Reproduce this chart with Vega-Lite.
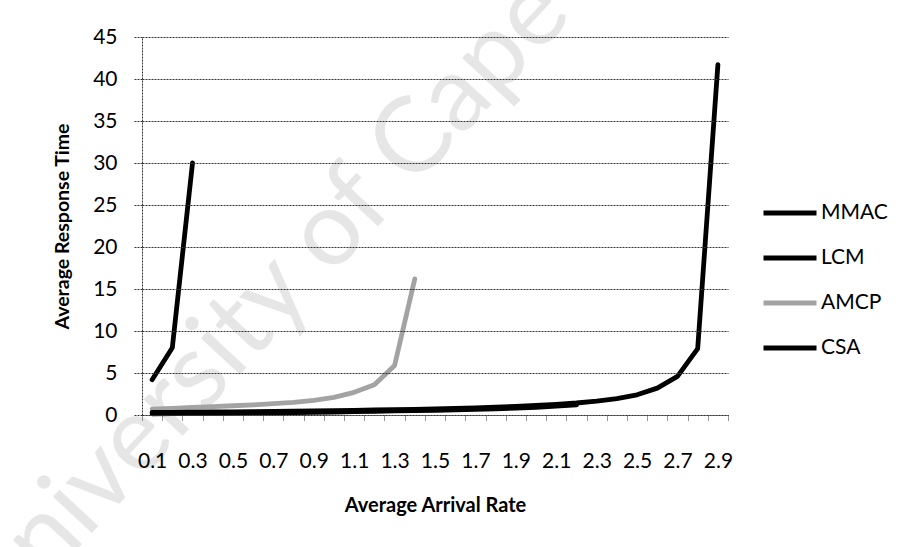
{
  "$schema": "https://vega.github.io/schema/vega-lite/v6.json",
  "width": 586,
  "height": 378,
  "autosize": "none",
  "padding": {"left": 142, "top": 37, "right": 180, "bottom": 132},
  "background": "white",
  "config": {"font": "Lato", "view": {"stroke": null}},
  "datasets": {
    "wm": [{"x": "1.1", "y": 25, "t": "University of Cape Town"}],
    "main": [
      {"x": "0.1", "s": "MMAC", "y": 4.2},
      {"x": "0.2", "s": "MMAC", "y": 8.0},
      {"x": "0.3", "s": "MMAC", "y": 30.0},
      {"x": "0.1", "s": "LCM", "y": 0.15},
      {"x": "0.2", "s": "LCM", "y": 0.17},
      {"x": "0.3", "s": "LCM", "y": 0.19},
      {"x": "0.4", "s": "LCM", "y": 0.21},
      {"x": "0.5", "s": "LCM", "y": 0.23},
      {"x": "0.6", "s": "LCM", "y": 0.25},
      {"x": "0.7", "s": "LCM", "y": 0.27},
      {"x": "0.8", "s": "LCM", "y": 0.3},
      {"x": "0.9", "s": "LCM", "y": 0.33},
      {"x": "1.0", "s": "LCM", "y": 0.36},
      {"x": "1.1", "s": "LCM", "y": 0.4},
      {"x": "1.2", "s": "LCM", "y": 0.44},
      {"x": "1.3", "s": "LCM", "y": 0.48},
      {"x": "1.4", "s": "LCM", "y": 0.52},
      {"x": "1.5", "s": "LCM", "y": 0.56},
      {"x": "1.6", "s": "LCM", "y": 0.61},
      {"x": "1.7", "s": "LCM", "y": 0.67},
      {"x": "1.8", "s": "LCM", "y": 0.74},
      {"x": "1.9", "s": "LCM", "y": 0.82},
      {"x": "2.0", "s": "LCM", "y": 0.92},
      {"x": "2.1", "s": "LCM", "y": 1.05},
      {"x": "2.2", "s": "LCM", "y": 1.2},
      {"x": "0.1", "s": "AMCP", "y": 0.7},
      {"x": "0.2", "s": "AMCP", "y": 0.8},
      {"x": "0.3", "s": "AMCP", "y": 0.9},
      {"x": "0.4", "s": "AMCP", "y": 1.0},
      {"x": "0.5", "s": "AMCP", "y": 1.1},
      {"x": "0.6", "s": "AMCP", "y": 1.2},
      {"x": "0.7", "s": "AMCP", "y": 1.35},
      {"x": "0.8", "s": "AMCP", "y": 1.5},
      {"x": "0.9", "s": "AMCP", "y": 1.75},
      {"x": "1.0", "s": "AMCP", "y": 2.1},
      {"x": "1.1", "s": "AMCP", "y": 2.7},
      {"x": "1.2", "s": "AMCP", "y": 3.6},
      {"x": "1.3", "s": "AMCP", "y": 5.9},
      {"x": "1.4", "s": "AMCP", "y": 16.2},
      {"x": "0.1", "s": "CSA", "y": 0.3},
      {"x": "0.2", "s": "CSA", "y": 0.32},
      {"x": "0.3", "s": "CSA", "y": 0.34},
      {"x": "0.4", "s": "CSA", "y": 0.36},
      {"x": "0.5", "s": "CSA", "y": 0.38},
      {"x": "0.6", "s": "CSA", "y": 0.4},
      {"x": "0.7", "s": "CSA", "y": 0.42},
      {"x": "0.8", "s": "CSA", "y": 0.45},
      {"x": "0.9", "s": "CSA", "y": 0.48},
      {"x": "1.0", "s": "CSA", "y": 0.52},
      {"x": "1.1", "s": "CSA", "y": 0.55},
      {"x": "1.2", "s": "CSA", "y": 0.6},
      {"x": "1.3", "s": "CSA", "y": 0.64},
      {"x": "1.4", "s": "CSA", "y": 0.68},
      {"x": "1.5", "s": "CSA", "y": 0.73},
      {"x": "1.6", "s": "CSA", "y": 0.79},
      {"x": "1.7", "s": "CSA", "y": 0.86},
      {"x": "1.8", "s": "CSA", "y": 0.94},
      {"x": "1.9", "s": "CSA", "y": 1.03},
      {"x": "2.0", "s": "CSA", "y": 1.14},
      {"x": "2.1", "s": "CSA", "y": 1.27},
      {"x": "2.2", "s": "CSA", "y": 1.43},
      {"x": "2.3", "s": "CSA", "y": 1.65},
      {"x": "2.4", "s": "CSA", "y": 1.95},
      {"x": "2.5", "s": "CSA", "y": 2.4},
      {"x": "2.6", "s": "CSA", "y": 3.2},
      {"x": "2.7", "s": "CSA", "y": 4.6},
      {"x": "2.8", "s": "CSA", "y": 7.9},
      {"x": "2.9", "s": "CSA", "y": 41.7}
    ]
  },
  "layer": [
    {
      "data": {"name": "wm"},
      "mark": {"type": "text", "angle": 313, "fontSize": 105, "color": "#e6e6e6", "font": "Lato"},
      "encoding": {
        "x": {"field": "x", "type": "ordinal", "bandPosition": 0.5},
        "y": {"field": "y", "type": "quantitative"},
        "text": {"field": "t"}
      }
    },
    {
      "data": {"name": "main"},
      "mark": {"type": "line", "strokeWidth": 4.8, "strokeJoin": "round", "strokeCap": "round"},
      "encoding": {
        "x": {
          "field": "x", "type": "ordinal", "bandPosition": 0.5,
          "scale": {"type": "band", "paddingInner": 0, "paddingOuter": 0,
            "domain": ["0.1","0.2","0.3","0.4","0.5","0.6","0.7","0.8","0.9","1.0","1.1","1.2","1.3","1.4","1.5","1.6","1.7","1.8","1.9","2.0","2.1","2.2","2.3","2.4","2.5","2.6","2.7","2.8","2.9"]},
          "axis": {
            "zindex": 1,
            "title": "Average Arrival Rate",
            "titleFontSize": 20, "titleFontWeight": "bold", "titleColor": "black", "titlePadding": 24,
            "labelAngle": 0, "labelFontSize": 21, "labelColor": "black", "labelPadding": 41,
            "labelAlign": "center", "bandPosition": 0.5,
            "labelExpr": "(round(toNumber(datum.value)*10) % 2 == 1) ? datum.value : ''",
            "tickBand": "extent", "tickSize": 5, "tickColor": "#333", "tickDash": [1, 1],
            "domainColor": "#333", "domainDash": [2, 1], "grid": false, "labelOverlap": false
          }
        },
        "y": {
          "field": "y", "type": "quantitative",
          "scale": {"domain": [0, 45], "nice": false},
          "axis": {
            "zindex": 1,
            "title": "Average Response Time",
            "titleFontSize": 19.5, "titleFontWeight": "bold", "titleColor": "black", "titlePadding": 20,
            "values": [0, 5, 10, 15, 20, 25, 30, 35, 40, 45],
            "labelFontSize": 21, "labelColor": "black", "labelPadding": 17,
            "tickSize": 8, "tickColor": "#333", "tickDash": [2, 1],
            "grid": true, "gridColor": "#333", "gridDash": [2, 1], "gridWidth": 1,
            "domainColor": "#333", "domainDash": [2, 1]
          }
        },
        "color": {
          "field": "s", "type": "nominal",
          "scale": {"domain": ["MMAC", "LCM", "AMCP", "CSA"], "range": ["#000000", "#000000", "#a3a3a3", "#000000"]},
          "legend": {
            "title": null, "orient": "none", "legendX": 619, "legendY": 147,
            "symbolType": "stroke", "symbolSize": 2809, "symbolStrokeWidth": 5,
            "labelFontSize": 21, "labelColor": "black", "labelOffset": 2, "rowPadding": 6
          }
        }
      }
    }
  ]
}
